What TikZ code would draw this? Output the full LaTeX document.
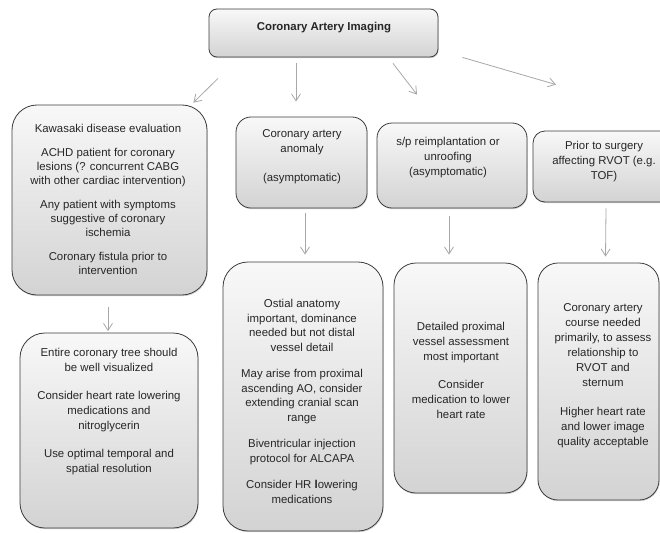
\documentclass[tikz,border=0pt]{standalone}
\usepackage{fontspec}
\setmainfont{Liberation Sans}
\usetikzlibrary{arrows.meta,shadows}
\definecolor{edgegray}{HTML}{3C3C3C}
\definecolor{arrowgray}{HTML}{A8A8A8}
\definecolor{topfill}{HTML}{F8F8F8}
\definecolor{botfill}{HTML}{D3D3D3}
\newcommand{\fsA}{\fontsize{11.4}{14}\selectfont}
\newcommand{\fsB}{\fontsize{11.4}{15}\selectfont}
\newcommand{\fsF}{\fontsize{11.4}{14.5}\selectfont}
\begin{document}
\begin{tikzpicture}[x=1pt,y=-1pt,
  box/.style={rectangle, draw=edgegray, line width=0.8pt, top color=topfill, bottom color=botfill, inner sep=0pt,
    drop shadow={shadow xshift=0.6pt, shadow yshift=-1.2pt, opacity=0.35}},
  txt/.style={align=center, inner sep=0pt, text=black!85, font=\fsB},
  arr/.style={draw=arrowgray, line width=0.8pt, -{Straight Barb[length=7pt,width=9pt]}}]
\clip (0,0) rectangle (660,532);
\fill[white] (0,0) rectangle (660,532);

% boxes
\node[box, minimum width=229pt, minimum height=48pt, rounded corners=8pt] (T) at (323.5,33) {};
\node[box, minimum width=195pt, minimum height=190pt, rounded corners=25pt] (A) at (109.5,200) {};
\node[box, minimum width=131pt, minimum height=91pt, rounded corners=15pt] (B) at (301.5,162.5) {};
\node[box, minimum width=150pt, minimum height=85pt, rounded corners=15pt] (C) at (452,165.5) {};
\node[box, minimum width=147pt, minimum height=71pt, rounded corners=12pt] (E) at (606.5,166.5) {};
\node[box, minimum width=178pt, minimum height=195pt, rounded corners=25pt] (D) at (109,430.5) {};
\node[box, minimum width=160pt, minimum height=269pt, rounded corners=25pt] (F) at (303,396.5) {};
\node[box, minimum width=133pt, minimum height=230pt, rounded corners=22pt] (G) at (460.5,378) {};
\node[box, minimum width=121pt, minimum height=237pt, rounded corners=20pt] (H) at (598.5,381.5) {};

% texts
\node[txt] (Tt) at (324,28) {\textbf{Coronary Artery Imaging}};
\node[txt, font=\fsA] (At) at (108,199) {Kawasaki disease evaluation\\[10pt]
  ACHD patient for coronary\\ lesions (? concurrent CABG\\ with other cardiac intervention)\\[10pt]
  Any patient with symptoms\\ suggestive of coronary\\ ischemia\\[10pt]
  Coronary fistula prior to\\ intervention};
\node[txt] (Bt) at (302,157) {Coronary artery\\ anomaly\\[14pt] (asymptomatic)};
\node[txt] (Ct) at (448,158) {s/p reimplantation or\\ unroofing\\ (asymptomatic)};
\node[txt] (Et) at (604,162) {Prior to surgery\\ affecting RVOT (e.g.\\ TOF)};
\node[txt] (Dt) at (109,412) {Entire coronary tree should\\ be well visualized\\[13pt]
  Consider heart rate lowering\\ medications and\hspace*{10pt}\\ nitroglycerin\hspace*{16pt}\\[13pt]
  Use optimal temporal and\\ spatial resolution};
\node[txt, font=\fsF] (Ft) at (302,401.5) {Ostial anatomy\\ important, dominance\\ needed but not distal\\ vessel detail\\[12pt]
  May arise from proximal\\ ascending AO, consider\\ extending cranial scan\\ range\\[12pt]
  Biventricular injection\\ protocol for ALCAPA\\[12pt]
  Consider HR \textbf{l}owering\\ medications};
\node[txt] (Gt) at (461,370.5) {Detailed proximal\\ vessel assessment\\ most important\\[13pt]
  Consider\\ medication to lower\\ heart rate};
\node[txt] (Ht) at (603,376) {Coronary artery\\ course needed\\ primarily, to assess\\ relationship to\\ RVOT and\\ sternum\\[14pt]
  Higher heart rate\\ and lower image\\ quality acceptable};

% connectors
\draw[arr] ([xshift=-105.5pt,yshift=-21pt]T.south) -- ([xshift=-14pt,yshift=2pt]A.north east);
\draw[arr] ([xshift=-27.5pt,yshift=-6pt]T.south) -- ([xshift=-5.5pt,yshift=15pt]B.north);
\draw[arr] ([xshift=69.5pt,yshift=-6pt]T.south) -- ([xshift=-35pt,yshift=28pt]C.north);
\draw[arr] ([xshift=24pt,yshift=0pt]T.south east) -- ([xshift=-50.5pt,yshift=46pt]E.north);
\draw[arr] ([xshift=-1.5pt,yshift=-12pt]A.south) -- ([xshift=-1pt,yshift=1.5pt]D.north);
\draw[arr] ([xshift=3.5pt,yshift=-5pt]B.south) -- ([xshift=2pt,yshift=7pt]F.north);
\draw[arr] ([xshift=-3pt,yshift=-8pt]C.south) -- ([xshift=-11.5pt,yshift=8pt]G.north);
\draw[arr] ([xshift=-0.5pt,yshift=-6pt]E.south) -- ([xshift=7pt,yshift=6pt]H.north);
\end{tikzpicture}
\end{document}
